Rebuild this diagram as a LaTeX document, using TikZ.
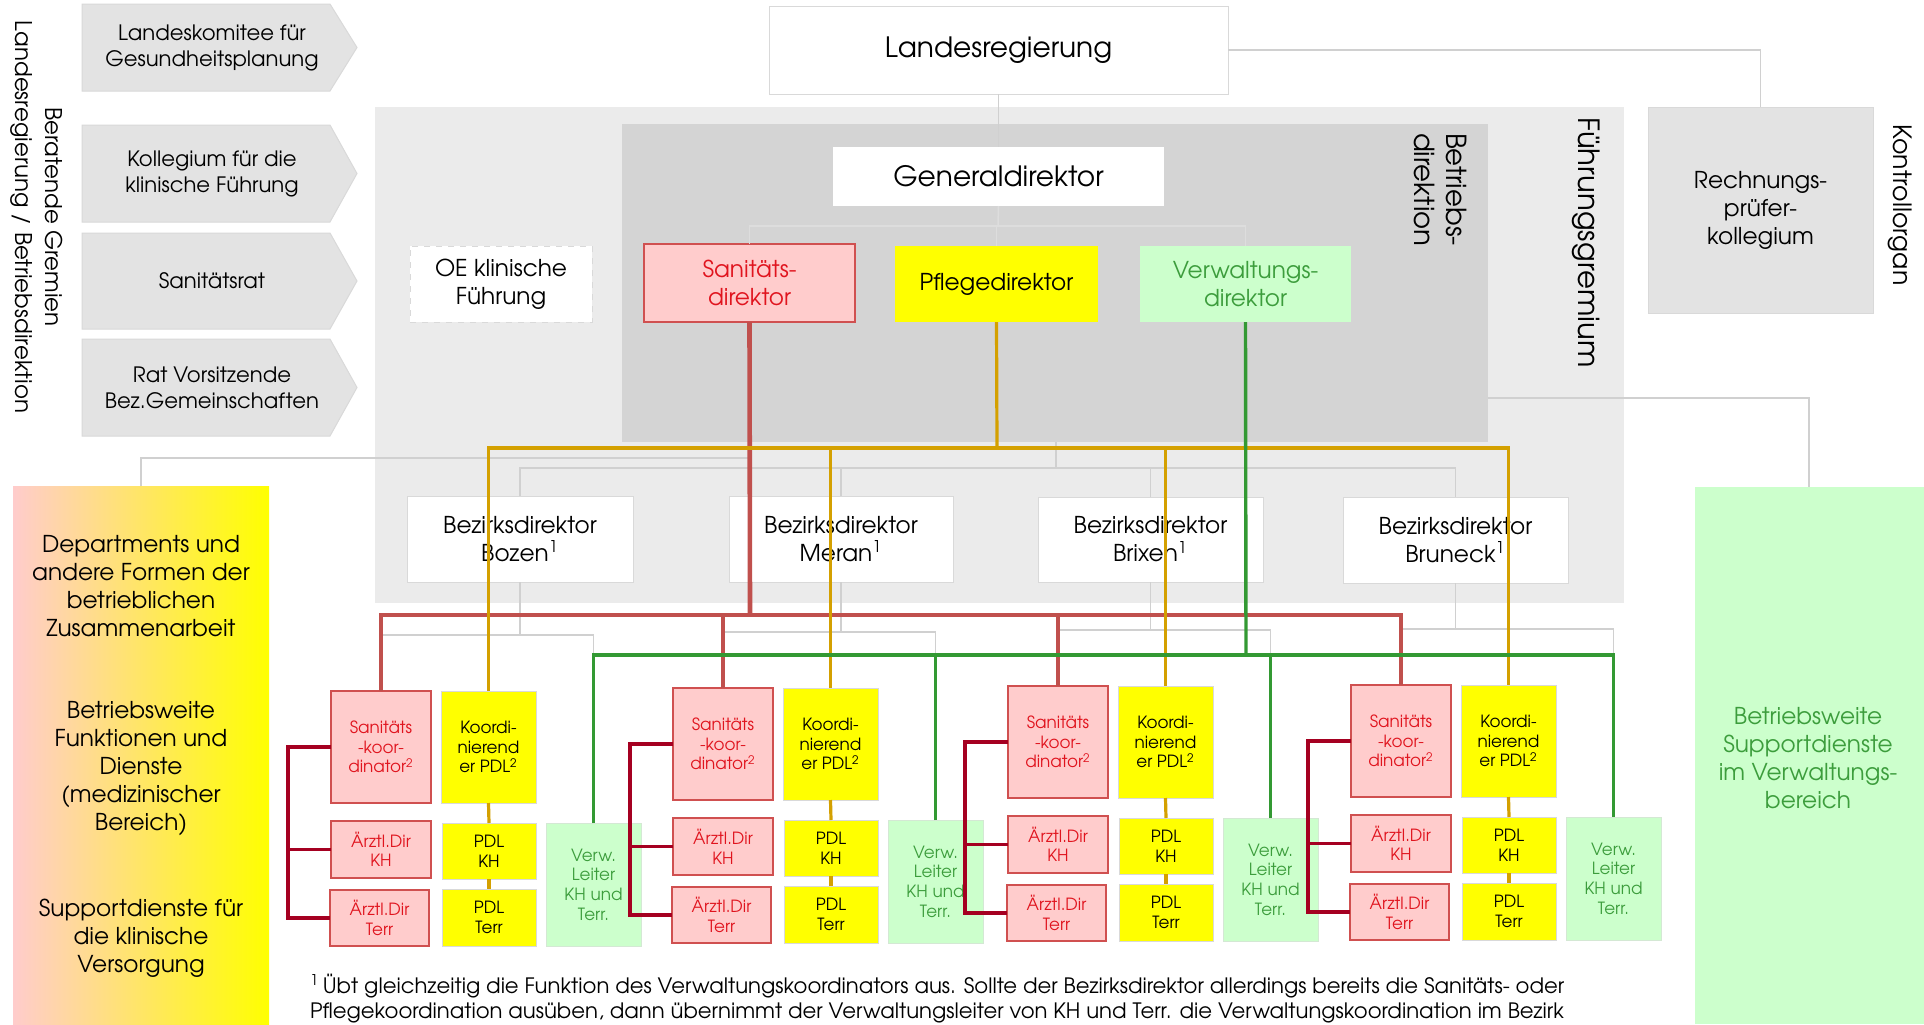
\documentclass[tikz,border=0pt]{standalone}
\usepackage{fontspec}
\setmainfont{TeX Gyre Adventor}
\usetikzlibrary{calc}
\definecolor{bgA}{HTML}{EBEBEB}
\definecolor{bgB}{HTML}{D4D4D4}
\definecolor{gbox}{HTML}{E3E3E3}
\definecolor{gbord}{HTML}{D9D9D9}
\definecolor{gline}{HTML}{D0D0D0}
\definecolor{pinkf}{HTML}{FFCCCC}
\definecolor{redb}{HTML}{D05050}
\definecolor{redt}{HTML}{E0141E}
\definecolor{redl}{HTML}{C0504D}
\definecolor{orl}{HTML}{D4A000}
\definecolor{grl}{HTML}{339933}
\definecolor{grnf}{HTML}{CCFFCC}
\definecolor{grnt}{HTML}{3C9D3C}
\definecolor{brkc}{HTML}{A50021}
\definecolor{ylw}{HTML}{FFFF00}
\newcommand\bx[7]{\node[#1, minimum width={(#5-#3)*0.5pt}, minimum height={(#6-#4)*0.5pt}] (#2) at ({(#3+#5)/2},{(#4+#6)/2}) {#7};}
\newcommand\arr[4]{%
  \path[arrbox] (82,#2) -- (330,#2) -- (357,{(#2+#3)/2}) -- (330,#3) -- (82,#3) -- cycle;
  \node[atxt] (#1) at (212,{(#2+#3)/2}) {#4};}
\begin{document}
\begin{tikzpicture}[x=0.5pt,y=-0.5pt,
  every node/.style={inner sep=0pt, outer sep=0pt, align=center},
  arrbox/.style={fill=gbox, draw=gbord, line width=0.5pt},
  atxt/.style={font=\fontsize{10.6}{13}\selectfont},
  whitebox/.style={fill=white, draw=gbord, line width=0.5pt},
  graybox/.style={fill=gbox, draw=gbord, line width=0.5pt},
  bigt/.style={font=\fontsize{14}{16}\selectfont},
  midt/.style={font=\fontsize{11.6}{14}\selectfont},
  smallt/.style={font=\fontsize{8.4}{9.8}\selectfont},
  sanbox/.style={fill=pinkf, draw=redb, line width=0.7pt, text=redt, smallt},
  ylwbox/.style={fill=ylw, draw=gbord, line width=0.5pt, text=black, smallt},
  grnbox/.style={fill=grnf, draw=gbord!60!grnf, line width=0.5pt, text=grnt, smallt},
  gl/.style={draw=gline, line width=0.75pt},
  gfaint/.style={draw=gbord!90!white, line width=0.75pt},
  redline/.style={draw=redl, line width=2.3pt},
  orline/.style={draw=orl, line width=1.6pt},
  grline/.style={draw=grl, line width=1.7pt},
  brk/.style={draw=brkc, line width=1.6pt, line join=miter}
]
\useasboundingbox (0,0) rectangle (1924,1024);
\fill[white] (0,0) rectangle (1924,1024);

% background regions
\fill[bgA] (375,107) rectangle (1624,603);
\fill[bgB] (622,124) rectangle (1488,442);
\coordinate (bdright) at (1488,398);
\coordinate (bdbottom) at (1056,442);

% side labels
\node[font=\fontsize{11.5}{15}\selectfont, rotate=-90] (berat) at (37,217) {Beratende Gremien\\Landesregierung / Betriebsdirektion};
\node[font=\fontsize{14.6}{16}\selectfont, rotate=-90, anchor=west] (fg) at (1586,117) {Führungsgremium};
\node[font=\fontsize{13.8}{16.3}\selectfont, rotate=-90, anchor=north west, align=left] (bdlab) at (1467,133) {Betriebs-\\direktion};
\node[font=\fontsize{12.6}{15}\selectfont, rotate=-90] (ko) at (1900,205) {Kontrollorgan};

% advisory arrow boxes
\arr{gk1}{4}{91}{Landeskomitee für\\Gesundheitsplanung}
\arr{gk2}{125}{222}{Kollegium für die\\klinische Führung}
\arr{gk3}{233}{329}{Sanitätsrat}
\arr{gk4}{339}{436}{Rat Vorsitzende\\Bez.Gemeinschaften}

% top boxes
\bx{whitebox,bigt}{lr}{769}{6}{1228}{94}{Landesregierung}
\bx{graybox,midt}{rp}{1648}{107}{1873}{313}{Rechnungs-\\prüfer-\\kollegium}
\bx{fill=white,draw=gbord,dashed,line width=0.5pt,midt}{oe}{410}{246}{592}{322}{OE klinische\\Führung}
\bx{fill=white,bigt}{gd}{833}{147}{1164}{206}{Generaldirektor}
\bx{fill=pinkf,draw=redb,line width=0.6pt,text=redt,midt}{sd}{644}{244}{855}{322}{Sanitäts-\\direktor}
\bx{fill=ylw,midt}{pd}{895}{246}{1098}{322}{Pflegedirektor}
\bx{fill=grnf,text=grnt,midt}{vd}{1140}{246}{1351}{322}{Verwaltungs-\\direktor}

% side panels
\shade[left color=pinkf, right color=ylw] (13,486) rectangle (269,1024);
\coordinate (lpanel) at (141,486);
\node[midt] (lp1) at (141,586) {Departments und\\andere Formen der\\betrieblichen\\Zusammenarbeit};
\node[midt] (lp2) at (141,769) {Betriebsweite\\Funktionen und\\Dienste\\(medizinischer\\Bereich)};
\node[midt] (lp3) at (141,938) {Supportdienste für\\die klinische\\Versorgung};
\fill[grnf] (1695,487) rectangle (1924,1024);
\coordinate (rpanel) at (1809,487);
\node[midt, text=grnt] (rp1) at (1808,758) {Betriebsweite\\Supportdienste\\im Verwaltungs-\\bereich};

% gray structure lines (top)
\draw[gl] (lr.south) -- (gd.north);
\draw[gl] (lr.east) -| (rp.north);
\coordinate (gdbus) at (998,226);
\draw[gfaint] (gd.south) -- (gdbus);
\draw[gfaint] (sd.north) |- (gdbus) -| (vd.north);
\draw[gfaint] (pd.north) -- (pd.north |- gdbus);
\draw[gl] (bdright) -| (rpanel);
\coordinate (lline) at (750,458);
\draw[gl] (lpanel) |- (lline);

% district boxes
\bx{whitebox,midt}{bz1}{407}{496}{633}{582}{Bezirksdirektor\\Bozen\textsuperscript{1}}
\bx{whitebox,midt}{bz2}{729}{496}{953}{582}{Bezirksdirektor\\Meran\textsuperscript{1}}
\bx{whitebox,midt}{bz3}{1038}{497}{1263}{582}{Bezirksdirektor\\Brixen\textsuperscript{1}}
\bx{whitebox,midt}{bz4}{1343}{497}{1568}{583}{Bezirksdirektor\\Bruneck\textsuperscript{1}}
\coordinate (bzbus) at (1056,468);
\draw[gl] (bdbottom) -- (bzbus);
\draw[gl] (bz1.north) |- (bzbus) -| (bz4.north);
\draw[gl] (bz2.north) -- (bz2.north |- bzbus);
\draw[gl] (bz3.north) -- (bz3.north |- bzbus);

% lower groups
\newcommand\grp[3]{%
\begin{scope}[shift={(#2,#3)}]
\bx{sanbox}{san#1}{0}{0}{100}{112}{Sanitäts\\-koor-\\dinator\textsuperscript{2}}
\bx{ylwbox}{kp#1}{110}{0}{205}{112}{Koordi-\\nierend\\er PDL\textsuperscript{2}}
\bx{sanbox}{akh#1}{0}{130}{100}{187}{Ärztl.Dir\\KH}
\bx{sanbox}{at#1}{-1}{199}{98}{255}{Ärztl.Dir\\Terr}
\bx{ylwbox}{pk#1}{111}{132}{205}{188}{PDL\\KH}
\bx{ylwbox}{pt#1}{111}{198}{205}{255}{PDL\\Terr}
\bx{grnbox}{vl#1}{215}{132}{310}{255}{Verw.\\Leiter\\KH und\\Terr.}
\coordinate (br#1) at (-43,0);
\coordinate (gb#1) at (50,-56);
\end{scope}
\draw[brk] (san#1.west) -- (san#1.west -| br#1) |- (at#1.west);
\draw[brk] (akh#1.west) -- (akh#1.west -| br#1);
\draw[orline] (kp#1.south) -- (pk#1.north);
\draw[orline] (pk#1.south) -- (pt#1.north);
}
\grp{1}{331}{691}
\grp{2}{673}{688}
\grp{3}{1008}{686}
\grp{4}{1351}{685}

% gray district-to-unit lines
\foreach \i in {1,2,3,4}{
  \draw[gl] (bz\i.south) -- (bz\i.south |- gb\i);
  \draw[gl] (san\i.north) -- (gb\i) -| (vl\i.north);
}

% red lines
\coordinate (redbus) at (750,615);
\draw[redline] (sd.south) -- (redbus);
\draw[redline, line join=miter] (san1.north) |- (san4.north |- redbus) -- (san4.north);
\draw[redline] (san2.north) -- (san2.north |- redbus);
\draw[redline] (san3.north) -- (san3.north |- redbus);

% orange lines
\coordinate (orbus) at (997,448);
\draw[orline] (pd.south) -- (orbus);
\draw[orline, line join=miter] (kp1.north) |- (kp4.north |- orbus) -- (kp4.north);
\draw[orline] (kp2.north) -- (kp2.north |- orbus);
\draw[orline] (kp3.north) -- (kp3.north |- orbus);

% green lines
\coordinate (grbus) at (1246,655);
\draw[grline] (vd.south) -- (grbus);
\draw[grline, line join=miter] (vl1.north) |- (vl4.north |- grbus) -- (vl4.north);
\draw[grline] (vl2.north) -- (vl2.north |- grbus);
\draw[grline] (vl3.north) -- (vl3.north |- grbus);

% footnote
\node[font=\fontsize{10.6}{12.5}\selectfont, anchor=west, align=left] (fn) at (310,999) {\textsuperscript{1}\,Übt gleichzeitig die Funktion des Verwaltungskoordinators aus. Sollte der Bezirksdirektor allerdings bereits die Sanitäts- oder\\Pflegekoordination ausüben, dann übernimmt der Verwaltungsleiter von KH und Terr. die Verwaltungskoordination im Bezirk};
\end{tikzpicture}
\end{document}
